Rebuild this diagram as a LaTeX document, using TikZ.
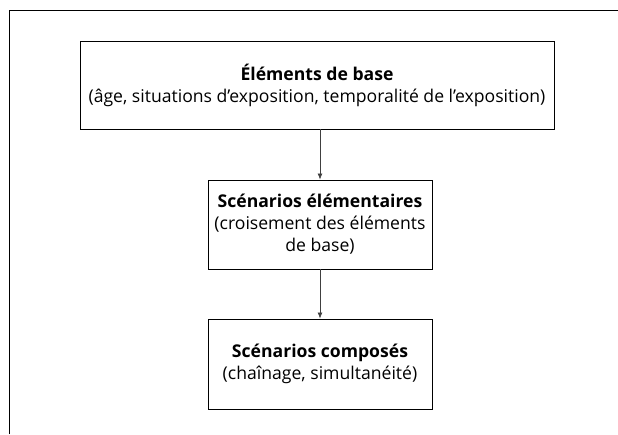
\documentclass[tikz,border=0pt]{standalone}
\usepackage{fontspec}
\setmainfont{Open Sans}
\usepackage{xcolor}
\usepackage{tikz}
\usetikzlibrary{arrows.meta}

\begin{document}
\begin{tikzpicture}[x=1pt, y=-1pt,
    every node/.style={rectangle, draw, line width=0.9pt, align=center, inner sep=0pt,
      font=\fontsize{17.6}{22}\selectfont},
    flowarrow/.style={draw=black!75, line width=0.7pt, -{Latex[length=6pt, width=5pt]}}]
    \useasboundingbox (0,0) rectangle (618,434);
    \draw[line width=1pt] (9,434) -- (9,10) -- (618,10);

    \node[minimum width=474pt, minimum height=88pt] (A) at (317,85)
      {\textbf{Éléments de base}\\(âge, situations d’exposition, temporalité de l’exposition)};
    \node[minimum width=224pt, minimum height=89pt] (B) at (320,224.5)
      {\textbf{Scénarios élémentaires}\\(croisement des éléments\\de base)};
    \node[minimum width=224pt, minimum height=90pt] (C) at (320,364)
      {\textbf{Scénarios composés}\\(chaînage, simultanéité)};

    \draw[flowarrow] (A.south -| B) -- (B);
    \draw[flowarrow] (B) -- (C);
\end{tikzpicture}
\end{document}
